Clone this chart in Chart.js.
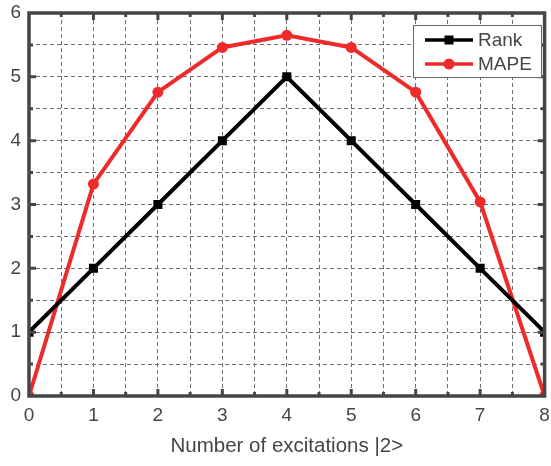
<!DOCTYPE html>
<html lang="en">
<head>
    <meta charset="UTF-8">
    <title>Rank and MAPE vs excitations</title>
    <style>
        html, body { margin: 0; padding: 0; background: #fff; }
        .container { width: 551px; height: 466px; position: relative; }
    </style>
    <script src="https://cdn.jsdelivr.net/npm/chart.js"></script>
</head>
<body>
    <div class="container">
        <canvas id="chart"></canvas>
    </div>

    <script>
        // data
        const excitations = [0, 1, 2, 3, 4, 5, 6, 7, 8];
        const rankValues = [1, 2, 3, 4, 5, 4, 3, 2, 1];
        const mapeValues = [0, 3.32, 4.76, 5.46, 5.65, 5.46, 4.76, 3.04, 0];
        const seriesNames = ['Rank', 'MAPE'];
        const xTitle = 'Number of excitations |2>';

        const axisColor = '#454545';
        const gridColor = '#6e6e6e';
        const fontFamily = '"Liberation Sans", Arial, sans-serif';

        // frame box + inward ticks on all four sides, and the legend box
        const framePlugin = {
            id: 'frame',
            afterDraw(chart) {
                const ctx = chart.ctx;
                const a = chart.chartArea;
                const xs = chart.scales.x, ys = chart.scales.y;
                ctx.save();
                ctx.strokeStyle = axisColor;
                ctx.lineWidth = 3.5;
                ctx.strokeRect(a.left, a.top, a.right - a.left, a.bottom - a.top);

                ctx.lineWidth = 3;
                ctx.beginPath();
                for (let v = 0.5; v < 8; v += 0.5) {
                    const px = xs.getPixelForValue(v);
                    const len = Number.isInteger(v) ? 7 : 4;
                    ctx.moveTo(px, a.bottom); ctx.lineTo(px, a.bottom - len);
                    ctx.moveTo(px, a.top); ctx.lineTo(px, a.top + len);
                }
                for (let v = 0.5; v < 6; v += 0.5) {
                    const py = ys.getPixelForValue(v);
                    const len = Number.isInteger(v) ? 7 : 4;
                    ctx.moveTo(a.left, py); ctx.lineTo(a.left + len, py);
                    ctx.moveTo(a.right, py); ctx.lineTo(a.right - len, py);
                }
                ctx.stroke();

                // legend
                const bx = 413, by = 25, bw = 128, bh = 52;
                ctx.fillStyle = '#fff';
                ctx.fillRect(bx, by, bw, bh);
                ctx.strokeStyle = '#666';
                ctx.lineWidth = 1;
                ctx.strokeRect(bx + 0.5, by + 0.5, bw, bh);
                chart.data.datasets.forEach((ds, i) => {
                    const ly = by + 15 + i * 24;
                    ctx.strokeStyle = ds.borderColor;
                    ctx.lineWidth = 3.5;
                    ctx.beginPath();
                    ctx.moveTo(bx + 12, ly); ctx.lineTo(bx + 60, ly);
                    ctx.stroke();
                    ctx.fillStyle = ds.borderColor;
                    if (ds.pointStyle === 'rect') {
                        ctx.fillRect(bx + 36 - 4.5, ly - 4.5, 9, 9);
                    } else {
                        ctx.beginPath();
                        ctx.arc(bx + 36, ly, 5.5, 0, Math.PI * 2);
                        ctx.fill();
                    }
                    ctx.fillStyle = axisColor;
                    ctx.font = '19px ' + fontFamily;
                    ctx.textBaseline = 'middle';
                    ctx.textAlign = 'left';
                    ctx.fillText(ds.label, bx + 65, ly + 1);
                });
                ctx.restore();
            }
        };

        const ctx = document.getElementById('chart').getContext('2d');
        new Chart(ctx, {
            type: 'line',
            data: {
                datasets: [
                    {
                        label: seriesNames[0],
                        data: excitations.map((x, i) => ({ x: x, y: rankValues[i] })),
                        borderColor: '#000000',
                        backgroundColor: '#000000',
                        borderWidth: 4,
                        pointStyle: 'rect',
                        pointRadius: 6.4,
                        pointBorderWidth: 0,
                        tension: 0
                    },
                    {
                        label: seriesNames[1],
                        data: excitations.map((x, i) => ({ x: x, y: mapeValues[i] })),
                        borderColor: '#ee2a2a',
                        backgroundColor: '#ee2a2a',
                        borderWidth: 4,
                        pointStyle: 'circle',
                        pointRadius: 5.5,
                        pointBorderWidth: 0,
                        tension: 0
                    }
                ]
            },
            options: {
                responsive: true,
                maintainAspectRatio: false,
                animation: false,
                layout: { padding: { top: 13, right: 5, left: 0, bottom: 0 } },
                plugins: {
                    legend: { display: false },
                    tooltip: { enabled: false }
                },
                scales: {
                    x: {
                        type: 'linear',
                        min: 0,
                        max: 8,
                        afterFit(scale) {
                            scale.height = 70;
                            scale.paddingLeft = 0;
                            scale.paddingRight = 0;
                        },
                        ticks: {
                            stepSize: 0.5,
                            autoSkip: false,
                            maxRotation: 0,
                            padding: 8,
                            color: axisColor,
                            font: { family: fontFamily, size: 19 },
                            callback: v => Number.isInteger(v) ? v : ''
                        },
                        grid: { color: gridColor, lineWidth: 1, drawTicks: false },
                        border: { display: false, dash: [4, 3] },
                        title: {
                            display: true,
                            text: xTitle,
                            color: axisColor,
                            font: { family: fontFamily, size: 20.5 },
                            padding: { top: 4, bottom: 7 }
                        }
                    },
                    y: {
                        min: 0,
                        max: 6,
                        afterFit(scale) {
                            scale.width = 29;
                            scale.paddingTop = 0;
                            scale.paddingBottom = 0;
                        },
                        ticks: {
                            stepSize: 0.5,
                            autoSkip: false,
                            padding: 8,
                            color: axisColor,
                            font: { family: fontFamily, size: 19 },
                            callback: v => Number.isInteger(v) ? v : ''
                        },
                        grid: { color: gridColor, lineWidth: 1, drawTicks: false },
                        border: { display: false, dash: [4, 3] }
                    }
                }
            },
            plugins: [framePlugin]
        });
    </script>
</body>
</html>
